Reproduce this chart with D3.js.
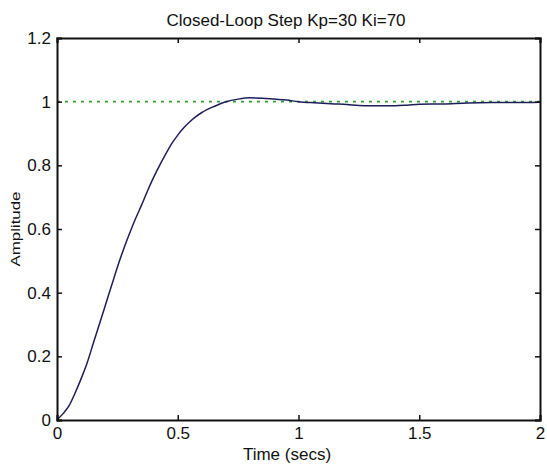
<!DOCTYPE html>
<html><head><meta charset="utf-8">
<script src="https://cdn.jsdelivr.net/npm/d3@7"></script>
<style>body{margin:0;background:#fff;}svg{display:block;font-family:"Liberation Sans",Arial,sans-serif;}</style>
</head><body>
<svg id="c" width="547" height="466"></svg>
<script>
const timeSecs = [0,0.025,0.05,0.075,0.1,0.125,0.15,0.175,0.2,0.225,0.25,0.275,0.3,0.325,0.35,0.375,0.4,0.425,0.45,0.475,0.5,0.525,0.55,0.575,0.6,0.65,0.7,0.75,0.8,0.85,0.9,0.95,1.0,1.05,1.1,1.15,1.2,1.25,1.3,1.35,1.4,1.45,1.5,1.6,1.7,1.8,1.9,2.0];
const amplitude = [0,0.02,0.045,0.085,0.13,0.18,0.24,0.30,0.36,0.42,0.48,0.535,0.585,0.632,0.675,0.72,0.762,0.80,0.835,0.868,0.895,0.918,0.937,0.953,0.966,0.985,1.0,1.008,1.012,1.011,1.008,1.005,1.0,0.997,0.995,0.993,0.991,0.988,0.987,0.987,0.987,0.989,0.992,0.993,0.996,0.997,0.997,0.998];
const xTicks = [0,0.5,1,1.5,2];
const yTicks = [0,0.2,0.4,0.6,0.8,1,1.2];
const refLevel = [1];

const svg = d3.select("#c");
const L=57, R=540, T=38, B=420;
const x = d3.scaleLinear().domain([0,2]).range([L,R]);
const y = d3.scaleLinear().domain([0,1.2]).range([B,T]);

// reference line
svg.selectAll("line.ref").data(refLevel).join("line")
  .attr("x1",x(0)).attr("x2",x(2)).attr("y1",d=>y(d)).attr("y2",d=>y(d))
  .attr("stroke","#2e9e2e").attr("stroke-width",1.8).attr("stroke-dasharray","3,5");

// curve
svg.append("path").datum(timeSecs.map((t,i)=>[t,amplitude[i]]))
  .attr("d",d3.line().x(d=>x(d[0])).y(d=>y(d[1])).curve(d3.curveMonotoneX))
  .attr("fill","none").attr("stroke","#1e1e5a").attr("stroke-width",1.5);

// axes
const fmt = d=>String(d);
const gb = svg.append("g").attr("transform",`translate(0,${B})`)
  .call(d3.axisBottom(x).tickValues(xTicks).tickSize(-5).tickPadding(7).tickFormat(fmt));
const gt = svg.append("g").attr("transform",`translate(0,${T})`)
  .call(d3.axisTop(x).tickValues(xTicks).tickSize(-5).tickFormat(""));
const gl = svg.append("g").attr("transform",`translate(${L},0)`)
  .call(d3.axisLeft(y).tickValues(yTicks).tickSize(-5).tickPadding(6).tickFormat(fmt));
const gr = svg.append("g").attr("transform",`translate(${R},0)`)
  .call(d3.axisRight(y).tickValues(yTicks).tickSize(-5).tickFormat(""));
[gb,gt,gl,gr].forEach(g=>{
  g.select(".domain").attr("stroke","#111").attr("stroke-width",2);
  g.selectAll(".tick line").attr("stroke","#111").attr("stroke-width",1.5);
  g.selectAll(".tick text").attr("fill","#111").style("font-size","17px").style("font-family","'Liberation Sans',Arial,sans-serif");
});

svg.append("text").attr("x",286).attr("y",26).attr("text-anchor","middle")
  .style("font-size","17px").attr("fill","#111").text("Closed-Loop Step Kp=30 Ki=70");
svg.append("text").attr("x",287).attr("y",460).attr("text-anchor","middle")
  .style("font-size","17px").attr("fill","#111").text("Time (secs)");
svg.append("text").attr("transform","translate(20,229) rotate(-90)").attr("text-anchor","middle")
  .style("font-size","12px").attr("textLength",75).attr("lengthAdjust","spacingAndGlyphs")
  .attr("fill","#111").text("Amplitude");
</script>
</body></html>
